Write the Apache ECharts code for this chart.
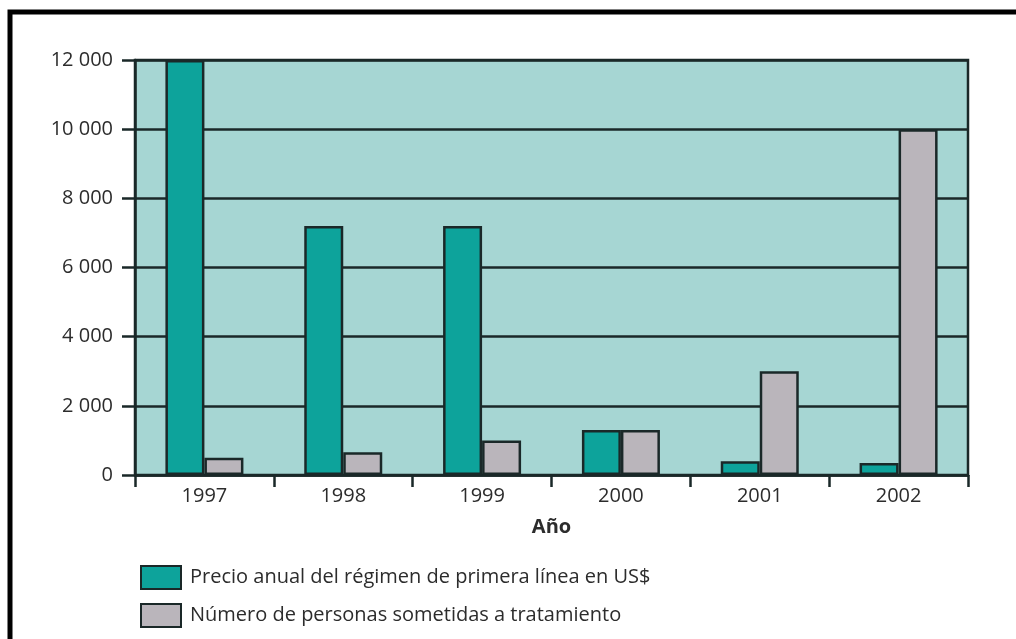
<!DOCTYPE html>
<html>
<head>
<meta charset="utf-8">
<script src="https://cdn.jsdelivr.net/npm/echarts@6/dist/echarts.min.js"></script>
<style>
  html, body { margin: 0; padding: 0; background: #ffffff; }
  #chart { width: 1016px; height: 639px; }
</style>
</head>
<body>
<div id="chart"></div>
<script>
// Years on the category axis
const years = ['1997', '1998', '1999', '2000', '2001', '2002'];
// Annual price of first-line regimen (US$)
const precioAnual = [12000, 7200, 7200, 1300, 400, 350];
// Number of people under treatment
const personasTratamiento = [500, 660, 1000, 1300, 3000, 10000];
// Value axis ticks
const yTicks = [0, 2000, 4000, 6000, 8000, 10000, 12000];

const serieNames = [
  'Precio anual del régimen de primera línea en US$',
  'Número de personas sometidas a tratamiento'
];

const ink = '#1a2828';
const textInk = '#2c2c2c';
const font = 'Open Sans';

// Thousands grouped with a space: 12 000
function fmtMiles(v) {
  return String(v).replace(/\B(?=(\d{3})+(?!\d))/g, ' ');
}

const chart = echarts.init(document.getElementById('chart'), null, { renderer: 'canvas' });

chart.setOption({
  backgroundColor: '#ffffff',
  animation: false,
  textStyle: { fontFamily: font },
  grid: {
    left: 135, right: 48, top: 60, bottom: 164,
    show: true,
    backgroundColor: '#a6d6d3',
    borderColor: ink,
    borderWidth: 2.5
  },
  legend: {
    orient: 'vertical',
    left: 135,
    top: 560,
    icon: 'rect',
    itemWidth: 40,
    itemHeight: 23,
    itemGap: 13,
    selectedMode: false,
    textStyle: { fontFamily: font, fontSize: 20, color: textInk, padding: [0, 0, 0, 4] },
    data: serieNames
  },
  xAxis: {
    type: 'category',
    data: years,
    name: 'Año',
    nameLocation: 'middle',
    nameGap: 42,
    nameTextStyle: { fontFamily: font, fontSize: 20, fontWeight: 'bold', color: textInk },
    axisLine: { show: true, lineStyle: { color: ink, width: 2.5 } },
    axisTick: { show: true, length: 12, inside: false, alignWithLabel: false, lineStyle: { color: ink, width: 2.5 } },
    axisLabel: { fontFamily: font, fontSize: 20, color: textInk, margin: 11 }
  },
  yAxis: {
    type: 'value',
    min: yTicks[0],
    max: yTicks[yTicks.length - 1],
    interval: yTicks[1] - yTicks[0],
    axisLine: { show: true, lineStyle: { color: ink, width: 2.5 } },
    axisTick: { show: true, length: 13, lineStyle: { color: ink, width: 2.5 } },
    axisLabel: {
      fontFamily: font, fontSize: 20, color: textInk, margin: 22,
      formatter: fmtMiles
    },
    splitLine: { show: true, lineStyle: { color: ink, width: 2.5 } }
  },
  series: [
    {
      name: serieNames[0],
      type: 'bar',
      data: precioAnual,
      barWidth: 39,
      barGap: '0%',
      itemStyle: { color: '#0da39b', borderColor: ink, borderWidth: 2.5 }
    },
    {
      name: serieNames[1],
      type: 'bar',
      data: personasTratamiento,
      barWidth: 39,
      barGap: '0%',
      itemStyle: { color: '#bab5bb', borderColor: ink, borderWidth: 2.5 }
    }
  ],
  graphic: [
    {
      type: 'polyline',
      silent: true,
      shape: { points: [[10, 639], [10, 12], [1016, 12]] },
      style: { stroke: '#000000', lineWidth: 5, fill: null }
    }
  ]
});
</script>
</body>
</html>
